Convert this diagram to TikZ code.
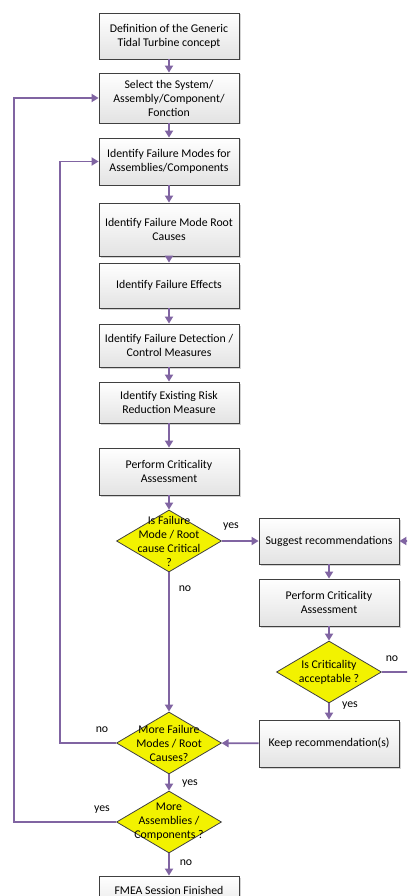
\documentclass[tikz,border=0pt]{standalone}
\usepackage{fontspec}
\setmainfont{Carlito}
\usetikzlibrary{shapes.geometric,arrows.meta,shadows}
\definecolor{flowline}{HTML}{8064A2}
\definecolor{boxline}{HTML}{404040}
\definecolor{decfill}{HTML}{F2F200}
\tikzset{>={Triangle[length=7pt,width=8pt]}}
\tikzset{
  stepbox/.style={rectangle,draw=boxline,thick,minimum width=140pt,align=center,
    inner xsep=1pt,top color=white,bottom color=gray!22,
    drop shadow={opacity=0.35,shadow xshift=1.5pt,shadow yshift=-1.5pt}},
  decision/.style={diamond,draw=boxline,thick,fill=decfill,inner sep=0pt,
    minimum width=105pt,minimum height=62pt},
  dtext/.style={align=center,inner sep=0pt},
  answer/.style={inner sep=0pt}
}

\begin{document}
\begin{tikzpicture}[x=1pt,y=-1pt,font=\fontsize{11.8}{14}\selectfont]
\path[use as bounding box,clip] (0,0) rectangle (407,896);

\begin{scope}[every node/.style={stepbox}]
\node[minimum height=46pt] (def) at (169,36) {Definition of the Generic\\Tidal Turbine concept};
\node[minimum height=50pt] (sel) at (169,98) {Select the System/\\Assembly/Component/\\Fonction};
\node[minimum height=47pt] (modes) at (169,161.5) {Identify Failure Modes for\\Assemblies/Components};
\node[minimum height=53pt] (roots) at (169,229.5) {Identify Failure Mode Root\\Causes};
\node[minimum height=45pt] (effects) at (169,285.5) {Identify Failure Effects};
\node[minimum height=43pt] (detect) at (169,345.5) {Identify Failure Detection /\\Control Measures};
\node[minimum height=41pt] (risk) at (169,402.5) {Identify Existing Risk\\Reduction Measure};
\node[minimum height=47pt] (crit) at (169,471.5) {Perform Criticality\\Assessment};
\node[minimum height=46pt] (suggest) at (329,541) {Suggest recommendations};
\node[minimum height=47pt] (recrit) at (329,602.5) {Perform Criticality\\Assessment};
\node[minimum height=47pt] (keep) at (329,743.5) {Keep recommendation(s)};
\node[minimum height=40pt] (done) at (169,896) {\raisebox{12pt}{FMEA Session Finished}};
\end{scope}

\node[decision] (iscrit) at (169,541) {};
\node[dtext] (iscritT) at (iscrit) {Is Failure\\Mode / Root\\cause Critical\\?};
\node[decision] (accept) at (329,672) {};
\node[dtext] (acceptT) at (accept) {Is Criticality\\acceptable ?};
\node[decision] (moremodes) at (169,743) {};
\node[dtext] (moremodesT) at (moremodes) {More Failure\\Modes / Root\\Causes?};
\node[decision] (moreass) at (169,822) {};
\node[dtext] (moreassT) at (moreass) {More\\Assemblies /\\Components ?};

\coordinate (loopR) at (412,672);
\coordinate (loopM) at (60,743);
\coordinate (loopA) at (14,822);

\begin{scope}[every node/.style={answer},
    every edge/.style={draw=flowline,line width=1.8pt}]
    \path [->] (def) edge (sel);
    \path [->] (sel) edge (modes);
    \path [->] (modes) edge (roots);
    \path [->] (roots) edge (effects);
    \path [->] (effects) edge (detect);
    \path [->] (detect) edge (risk);
    \path [->] (risk) edge (crit);
    \path [->] (crit) edge (iscrit);

    \path [->] (iscrit) edge (suggest);
    \path [->] (iscrit) edge (moremodes);
    \path [->] (suggest) edge (recrit);
    \path [->] (recrit) edge (accept);
    \path [->] (accept) edge (keep);
    \path [->] (keep) edge (moremodes);
    \path [->] (moremodes) edge (moreass);
    \path [->] (moreass) edge (done);

    % loops back
    \path [->] (accept.east) edge [to path={-- (loopR) |- (\tikztotarget)}] (suggest.east);
    \path [->] (moremodes.west) edge [to path={-- (loopM) |- (\tikztotarget)}] (modes.west);
    \path [->] (moreass.west) edge [to path={-- (loopA) |- (\tikztotarget)}] (sel.west);
\end{scope}

\node[answer] (yes1) at (231,527) {yes};
\node[answer] (no1) at (185,589) {no};
\node[answer] (no2) at (392,659) {no};
\node[answer] (yes2) at (350,706) {yes};
\node[answer] (no3) at (102,730) {no};
\node[answer] (yes3) at (190,784) {yes};
\node[answer] (yes4) at (102,810) {yes};
\node[answer] (no4) at (186,863) {no};
\end{tikzpicture}
\end{document}
